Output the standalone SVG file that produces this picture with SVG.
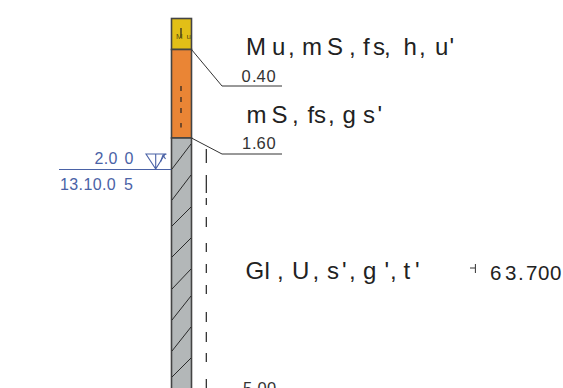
<svg xmlns="http://www.w3.org/2000/svg" width="563" height="388" viewBox="0 0 563 388">
<style>
text{font-family:"Liberation Sans",Arial,sans-serif}
.big{font-size:24px;fill:#222}
.dep{font-size:16.500px;fill:#333}
.blue{font-size:16px;fill:#4a62a6}
.ln{stroke:#333;stroke-width:1;fill:none}
.hatch{stroke:#2a2a2a;stroke-width:1;fill:none}
.col{stroke:#444;stroke-width:1.600}
.dash{stroke:#222;stroke-width:1.200;fill:none}
.bl{stroke:#4a62a6;stroke-width:1.100;fill:none}
</style>
<rect width="563" height="388" fill="#fff"/>
<g id="layer-mu">
<rect class="col" x="171.500" y="18.500" width="20" height="31" fill="#e2bf17"/>
<path class="dash" d="M181 28V38"/>
<text x="176" y="38.500" font-size="8" fill="#5a4e10">M</text><text x="186.500" y="38.500" font-size="8" fill="#5a4e10">u</text>
</g>
<g id="layer-ms">
<rect class="col" x="171.500" y="49.500" width="20" height="88.500" fill="#ea8535"/>
<path class="dash" d="M181 86V91M181 97V102M181 108V113M181 123V127.500"/>
</g>
<g id="layer-gl">
<rect class="col" x="171.500" y="138" width="20" height="252" fill="#b3b7b8"/>
<path class="hatch" d="M172 169L191 144M172 200L191 175M172 226L191 207M172 257L191 238M172 289L191 269M172 320L191 296M172 351L191 327M172 377L191 358"/>
</g>
<g id="connectors">
<path class="ln" d="M191.500 49.500L222 86H282"/>
<path class="ln" d="M191.500 138L222 154H282"/>
<path class="dash" stroke-width="1" d="M206.300 149V163M206.300 175V193M206.300 198V205M206.300 217V227M206.300 243V252M206.300 264V273M206.300 285V294M206.300 312V322M206.300 332V342M206.300 353V362M206.300 379V388"/>
</g>
<g id="label-top">
<text class="big" y="55" x="246 272 288 295 302 327 349 356 363 373 384 395 403.500 419 427 435 449.500">Mu, mS, fs, h, u'</text>
<text class="dep" y="81.500" x="241.500 252 256.500 266.500">0.40</text>
</g>
<g id="label-mid">
<text class="big" y="123" x="246.500 271.500 292 300 307.500 314 328 336 342.500 363 377.500">mS, fs, gs'</text>
<text class="dep" y="149" x="242 252 256.500 266.500">1.60</text>
</g>
<g id="label-low">
<text class="big" y="279" x="245.500 264.500 277 285 292 312.500 320 327 342 349 357 363 384.500 390 397 403.500 415">Gl, U, s', g', t'</text>
<path class="ln" stroke-width="0.800" d="M470 268H475M475.400 264V273"/>
<text y="280" font-size="20.500" fill="#222" x="490 505 518 526 538 550">63.700</text>
<text class="dep" y="394" x="243 252.500 257.500 267">5.00</text>
</g>
<g id="water">
<path class="bl" d="M59 169.500H171"/>
<path class="bl" d="M146 154H165L155.700 169ZM155.700 154V169"/>
<path class="bl" stroke-width="1.500" d="M160.500 162L163 155L166.500 154M163 155L165.500 159"/>
<text class="blue" y="164" x="94.500 103.800 108.500 118 124.500">2.0 0</text>
<text class="blue" y="190" x="60 69.300 78.600 83.400 92.700 102 106.700 115 124">13.10.0 5</text>
</g>
</svg>
